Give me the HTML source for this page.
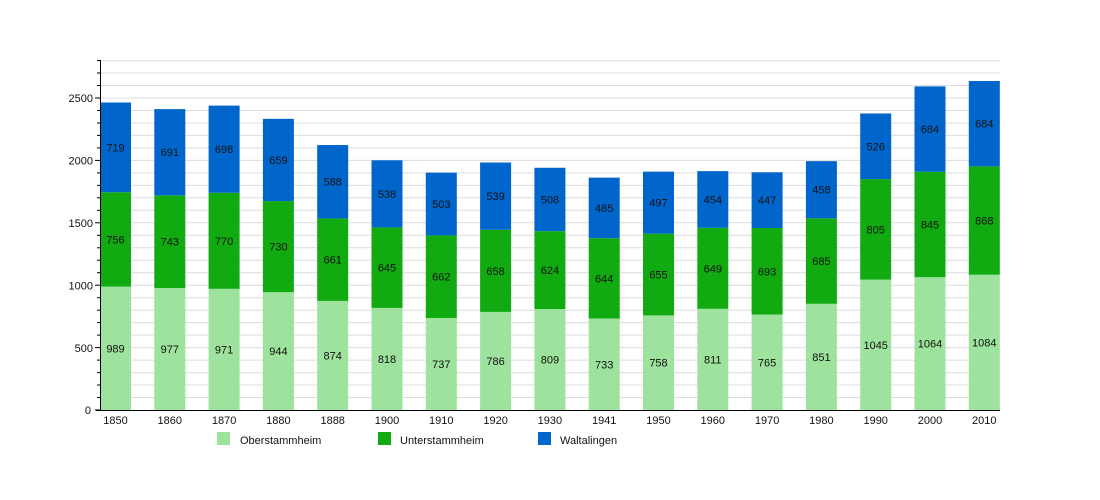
<!DOCTYPE html>
<html><head><meta charset="utf-8"><style>
html,body{margin:0;padding:0;background:#fff;}
svg{display:block;font-family:"Liberation Sans",sans-serif;}
</style></head><body>
<svg width="1100" height="500" viewBox="0 0 1100 500" xmlns="http://www.w3.org/2000/svg">
<g stroke="#dcdcdc" stroke-width="1">
<line x1="100" x2="1000" y1="397.5" y2="397.5"/><line x1="100" x2="1000" y1="385" y2="385"/><line x1="100" x2="1000" y1="372.6" y2="372.6"/><line x1="100" x2="1000" y1="360.1" y2="360.1"/><line x1="100" x2="1000" y1="347.6" y2="347.6"/><line x1="100" x2="1000" y1="335.1" y2="335.1"/><line x1="100" x2="1000" y1="322.6" y2="322.6"/><line x1="100" x2="1000" y1="310.2" y2="310.2"/><line x1="100" x2="1000" y1="297.7" y2="297.7"/><line x1="100" x2="1000" y1="285.2" y2="285.2"/><line x1="100" x2="1000" y1="272.7" y2="272.7"/><line x1="100" x2="1000" y1="260.2" y2="260.2"/><line x1="100" x2="1000" y1="247.8" y2="247.8"/><line x1="100" x2="1000" y1="235.3" y2="235.3"/><line x1="100" x2="1000" y1="222.8" y2="222.8"/><line x1="100" x2="1000" y1="210.3" y2="210.3"/><line x1="100" x2="1000" y1="197.8" y2="197.8"/><line x1="100" x2="1000" y1="185.4" y2="185.4"/><line x1="100" x2="1000" y1="172.9" y2="172.9"/><line x1="100" x2="1000" y1="160.4" y2="160.4"/><line x1="100" x2="1000" y1="147.9" y2="147.9"/><line x1="100" x2="1000" y1="135.4" y2="135.4"/><line x1="100" x2="1000" y1="123" y2="123"/><line x1="100" x2="1000" y1="110.5" y2="110.5"/><line x1="100" x2="1000" y1="98" y2="98"/><line x1="100" x2="1000" y1="85.5" y2="85.5"/><line x1="100" x2="1000" y1="73" y2="73"/><line x1="100" x2="1000" y1="60.6" y2="60.6"/>
</g>
<g transform="translate(0,410) scale(1,-0.1248)">
<g fill="#9de39d">
<rect x="100" width="31" y="0" height="989"/><rect x="154.3" width="31" y="0" height="977"/><rect x="208.6" width="31" y="0" height="971"/><rect x="262.9" width="31" y="0" height="944"/><rect x="317.2" width="31" y="0" height="874"/><rect x="371.5" width="31" y="0" height="818"/><rect x="425.8" width="31" y="0" height="737"/><rect x="480.1" width="31" y="0" height="786"/><rect x="534.4" width="31" y="0" height="809"/><rect x="588.7" width="31" y="0" height="733"/><rect x="643" width="31" y="0" height="758"/><rect x="697.3" width="31" y="0" height="811"/><rect x="751.6" width="31" y="0" height="765"/><rect x="805.9" width="31" y="0" height="851"/><rect x="860.2" width="31" y="0" height="1045"/><rect x="914.5" width="31" y="0" height="1064"/><rect x="968.8" width="31" y="0" height="1084"/>
</g>
<g fill="#11aa11">
<rect x="100" width="31" y="989" height="756"/><rect x="154.3" width="31" y="977" height="743"/><rect x="208.6" width="31" y="971" height="770"/><rect x="262.9" width="31" y="944" height="730"/><rect x="317.2" width="31" y="874" height="661"/><rect x="371.5" width="31" y="818" height="645"/><rect x="425.8" width="31" y="737" height="662"/><rect x="480.1" width="31" y="786" height="658"/><rect x="534.4" width="31" y="809" height="624"/><rect x="588.7" width="31" y="733" height="644"/><rect x="643" width="31" y="758" height="655"/><rect x="697.3" width="31" y="811" height="649"/><rect x="751.6" width="31" y="765" height="693"/><rect x="805.9" width="31" y="851" height="685"/><rect x="860.2" width="31" y="1045" height="805"/><rect x="914.5" width="31" y="1064" height="845"/><rect x="968.8" width="31" y="1084" height="868"/>
</g>
<g fill="#0066cc">
<rect x="100" width="31" y="1745" height="719"/><rect x="154.3" width="31" y="1720" height="691"/><rect x="208.6" width="31" y="1741" height="698"/><rect x="262.9" width="31" y="1674" height="659"/><rect x="317.2" width="31" y="1535" height="588"/><rect x="371.5" width="31" y="1463" height="538"/><rect x="425.8" width="31" y="1399" height="503"/><rect x="480.1" width="31" y="1444" height="539"/><rect x="534.4" width="31" y="1433" height="508"/><rect x="588.7" width="31" y="1377" height="485"/><rect x="643" width="31" y="1413" height="497"/><rect x="697.3" width="31" y="1460" height="454"/><rect x="751.6" width="31" y="1458" height="447"/><rect x="805.9" width="31" y="1536" height="458"/><rect x="860.2" width="31" y="1850" height="526"/><rect x="914.5" width="31" y="1909" height="684"/><rect x="968.8" width="31" y="1952" height="684"/>
</g>
</g>
<g font-size="11" fill="#111" text-anchor="middle">
<text x="115.5" y="352.3">989</text><text x="115.5" y="243.4">756</text><text x="115.5" y="151.4">719</text>
<text x="169.8" y="353">977</text><text x="169.8" y="245.7">743</text><text x="169.8" y="156.2">691</text>
<text x="224.1" y="353.4">971</text><text x="224.1" y="244.8">770</text><text x="224.1" y="153.2">698</text>
<text x="278.4" y="355.1">944</text><text x="278.4" y="250.6">730</text><text x="278.4" y="163.8">659</text>
<text x="332.7" y="359.5">874</text><text x="332.7" y="263.7">661</text><text x="332.7" y="185.7">588</text>
<text x="387" y="363">818</text><text x="387" y="271.7">645</text><text x="387" y="197.8">538</text>
<text x="441.3" y="368">737</text><text x="441.3" y="280.7">662</text><text x="441.3" y="208">503</text>
<text x="495.6" y="365">786</text><text x="495.6" y="274.8">658</text><text x="495.6" y="200.2">539</text>
<text x="549.9" y="363.5">809</text><text x="549.9" y="274.1">624</text><text x="549.9" y="203.5">508</text>
<text x="604.2" y="368.3">733</text><text x="604.2" y="282.3">644</text><text x="604.2" y="211.9">485</text>
<text x="658.5" y="366.7">758</text><text x="658.5" y="278.5">655</text><text x="658.5" y="206.6">497</text>
<text x="712.8" y="363.4">811</text><text x="712.8" y="272.3">649</text><text x="712.8" y="203.5">454</text>
<text x="767.1" y="366.3">765</text><text x="767.1" y="275.3">693</text><text x="767.1" y="204.2">447</text>
<text x="821.4" y="360.9">851</text><text x="821.4" y="265">685</text><text x="821.4" y="193.7">458</text>
<text x="875.7" y="348.8">1045</text><text x="875.7" y="233.4">805</text><text x="875.7" y="150.3">526</text>
<text x="930" y="347.6">1064</text><text x="930" y="228.5">845</text><text x="930" y="133.1">684</text>
<text x="984.3" y="346.4">1084</text><text x="984.3" y="224.6">868</text><text x="984.3" y="127.7">684</text>
</g>
<g stroke="#000" stroke-width="1">
<line x1="100.5" y1="60" x2="100.5" y2="410.5"/>
<line x1="96" y1="410.5" x2="1000" y2="410.5"/>
<g stroke-width="1"><line x1="95" x2="100" y1="410" y2="410"/><line x1="95" x2="100" y1="347.6" y2="347.6"/><line x1="95" x2="100" y1="285.2" y2="285.2"/><line x1="95" x2="100" y1="222.8" y2="222.8"/><line x1="95" x2="100" y1="160.4" y2="160.4"/><line x1="95" x2="100" y1="98" y2="98"/>
<line x1="97" x2="100" y1="397.5" y2="397.5"/><line x1="97" x2="100" y1="385" y2="385"/><line x1="97" x2="100" y1="372.6" y2="372.6"/><line x1="97" x2="100" y1="360.1" y2="360.1"/><line x1="97" x2="100" y1="335.1" y2="335.1"/><line x1="97" x2="100" y1="322.6" y2="322.6"/><line x1="97" x2="100" y1="310.2" y2="310.2"/><line x1="97" x2="100" y1="297.7" y2="297.7"/><line x1="97" x2="100" y1="272.7" y2="272.7"/><line x1="97" x2="100" y1="260.2" y2="260.2"/><line x1="97" x2="100" y1="247.8" y2="247.8"/><line x1="97" x2="100" y1="235.3" y2="235.3"/><line x1="97" x2="100" y1="210.3" y2="210.3"/><line x1="97" x2="100" y1="197.8" y2="197.8"/><line x1="97" x2="100" y1="185.4" y2="185.4"/><line x1="97" x2="100" y1="172.9" y2="172.9"/><line x1="97" x2="100" y1="147.9" y2="147.9"/><line x1="97" x2="100" y1="135.4" y2="135.4"/><line x1="97" x2="100" y1="123" y2="123"/><line x1="97" x2="100" y1="110.5" y2="110.5"/><line x1="97" x2="100" y1="85.5" y2="85.5"/><line x1="97" x2="100" y1="73" y2="73"/><line x1="97" x2="100" y1="60.6" y2="60.6"/></g>
</g>
<g font-size="11" fill="#111" text-anchor="end">
<text x="91" y="414">0</text><text x="93" y="352">500</text><text x="93" y="289.5">1000</text><text x="93" y="227">1500</text><text x="93" y="164.5">2000</text><text x="93" y="102">2500</text>
</g>
<g font-size="11" fill="#111" text-anchor="middle">
<text x="115.5" y="424">1850</text><text x="169.8" y="424">1860</text><text x="224.1" y="424">1870</text><text x="278.4" y="424">1880</text><text x="332.7" y="424">1888</text><text x="387" y="424">1900</text><text x="441.3" y="424">1910</text><text x="495.6" y="424">1920</text><text x="549.9" y="424">1930</text><text x="604.2" y="424">1941</text><text x="658.5" y="424">1950</text><text x="712.8" y="424">1960</text><text x="767.1" y="424">1970</text><text x="821.4" y="424">1980</text><text x="875.7" y="424">1990</text><text x="930" y="424">2000</text><text x="984.3" y="424">2010</text>
</g>
<rect x="217" y="432" width="13" height="13" fill="#9de39d"/>
<rect x="378" y="432" width="13" height="13" fill="#11aa11"/>
<rect x="538" y="432" width="13" height="13" fill="#0066cc"/>
<g font-size="11" fill="#111">
<text x="240" y="444">Oberstammheim</text>
<text x="400" y="444">Unterstammheim</text>
<text x="560" y="444">Waltalingen</text>
</g>
</svg>
</body></html>
